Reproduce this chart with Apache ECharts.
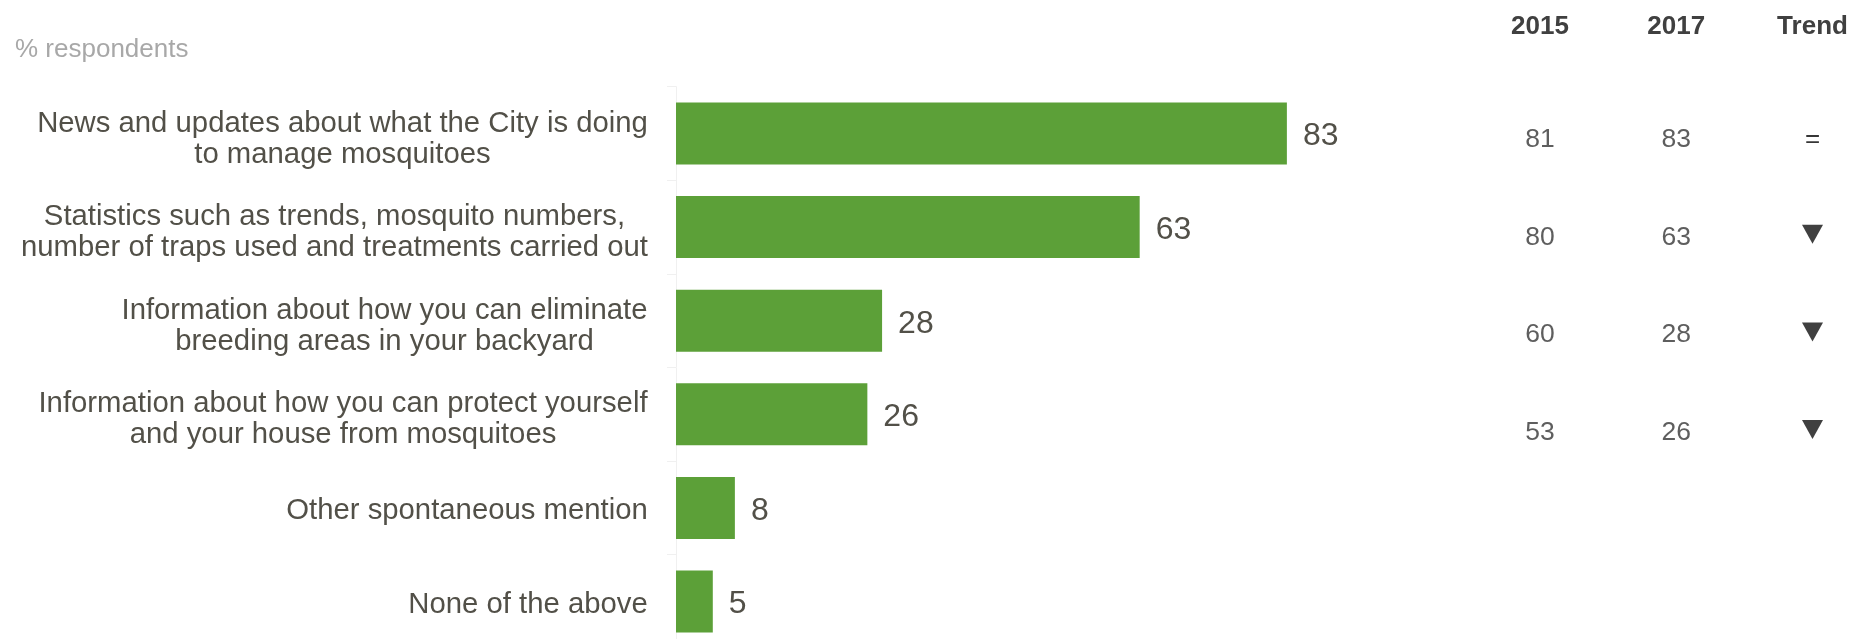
<!DOCTYPE html>
<html>
<head>
<meta charset="utf-8">
<script src="https://cdn.jsdelivr.net/npm/echarts@6/dist/echarts.min.js"></script>
<style>
html,body{margin:0;padding:0;background:#fff;overflow:hidden;}
#chart{width:1853px;height:660px;}
</style>
</head>
<body>
<div id="chart"></div>
<script>
// ---- data ----
const categories = [
  "News and updates about what the City is doing\nto manage mosquitoes",
  "Statistics such as trends, mosquito numbers,\nnumber of traps used and treatments carried out",
  "Information about how you can eliminate\nbreeding areas in your backyard",
  "Information about how you can protect yourself\nand your house from mosquitoes",
  "Other spontaneous mention",
  "None of the above"
];
const values2017 = [83, 63, 28, 26, 8, 5];
const tableHeaders = ["2015", "2017", "Trend"];
const tableRows = ["r1", "r2", "r3", "r4"];
const table2015 = [81, 80, 60, 53];
const table2017 = [83, 63, 28, 26];
const trend = ["=", "down", "down", "down"];
const axisTitle = "% respondents";

// ---- styling ----
const FONT = "'Liberation Sans', Arial, sans-serif";
const LABEL_SIZE = 29.3;
const LABEL_COLOR = "#525048";
const TABLE_COLOR = "#404040";
const TABLE_NUM_COLOR = "#363636";
const BAR_COLOR = "#5ca038";

// measure label widths so multi-line labels are centred within their block
const cv = document.createElement("canvas").getContext("2d");
cv.font = LABEL_SIZE + "px " + FONT;
const rich = {
  sp1: {fontSize: 1, lineHeight: 6},
  sp2: {fontSize: 1, lineHeight: 11}
};
categories.forEach((c, i) => {
  const w = Math.max(...c.split("\n").map(s => cv.measureText(s).width));
  rich["c" + i] = {
    width: Math.ceil(w) + 2, align: "center", fontSize: LABEL_SIZE,
    lineHeight: 31, color: LABEL_COLOR, fontFamily: FONT
  };
});

const chart = echarts.init(document.getElementById("chart"));
chart.setOption({
  animation: false,
  backgroundColor: "#ffffff",
  title: {
    text: axisTitle, left: 10, top: 32,
    textStyle: {fontSize: 26, fontWeight: "normal", color: "#a8a8a8", fontFamily: FONT}
  },
  grid: [
    {left: 676, top: 86.7, width: 736, height: 561.6, containLabel: false},
    {left: 1540, top: 136.6, width: 272.5, height: 293, containLabel: false}
  ],
  xAxis: [
    {gridIndex: 0, type: "value", min: 0, max: 100, show: false, splitLine: {show: false}},
    {gridIndex: 1, type: "category", data: tableHeaders, position: "top", boundaryGap: false,
     axisLine: {show: false}, axisTick: {show: false}, splitLine: {show: false},
     axisLabel: {margin: 96.5, fontSize: 26, lineHeight: 26, fontWeight: "bold", color: TABLE_COLOR, fontFamily: FONT}}
  ],
  yAxis: [
    {gridIndex: 0, type: "category", data: categories, inverse: true,
     axisLine: {show: true, lineStyle: {color: "#f0f0f0", width: 1}},
     axisTick: {show: true, length: 9, lineStyle: {color: "#f0f0f0"}},
     axisLabel: {
       margin: 27, fontFamily: FONT, fontSize: LABEL_SIZE, color: LABEL_COLOR,
       formatter: (v, idx) => {
         const lines = v.split("\n");
         const sp = lines.length > 1 ? "{sp2| }" : "{sp1| }";
         return sp + "\n" + lines.map(s => "{c" + idx + "|" + s + "}").join("\n");
       },
       rich: rich
     }},
    {gridIndex: 1, type: "category", data: tableRows, inverse: true, boundaryGap: false, show: false}
  ],
  series: [
    {
      type: "bar", xAxisIndex: 0, yAxisIndex: 0, data: values2017,
      barWidth: 62, itemStyle: {color: BAR_COLOR},
      label: {show: true, position: "right", distance: 16, offset: [0, 3], fontSize: 32,
              color: LABEL_COLOR, fontFamily: FONT}
    },
    {
      type: "scatter", xAxisIndex: 1, yAxisIndex: 1, symbol: "circle", symbolSize: 1,
      itemStyle: {color: "rgba(0,0,0,0)"},
      data: table2015.map((v, i) => [tableHeaders[0], tableRows[i], v]),
      label: {show: true, position: "inside", offset: [0, 3], formatter: p => p.value[2],
              fontSize: 26.5, color: TABLE_NUM_COLOR, fontFamily: FONT}
    },
    {
      type: "scatter", xAxisIndex: 1, yAxisIndex: 1, symbol: "circle", symbolSize: 1,
      itemStyle: {color: "rgba(0,0,0,0)"},
      data: table2017.map((v, i) => [tableHeaders[1], tableRows[i], v]),
      label: {show: true, position: "inside", offset: [0, 3], formatter: p => p.value[2],
              fontSize: 26.5, color: TABLE_NUM_COLOR, fontFamily: FONT}
    },
    {
      type: "scatter", xAxisIndex: 1, yAxisIndex: 1,
      data: trend.map((t, i) => ({
        value: [tableHeaders[2], tableRows[i]],
        symbol: t === "=" ? "circle" : "triangle",
        symbolRotate: t === "down" ? 180 : 0,
        symbolSize: t === "=" ? 1 : [21, 19],
        itemStyle: {color: t === "=" ? "rgba(0,0,0,0)" : TABLE_COLOR, opacity: 1},
        label: {show: t === "=", formatter: "="}
      })),
      label: {position: "inside", offset: [0, 3], fontSize: 26, color: TABLE_NUM_COLOR, fontFamily: FONT}
    }
  ]
});
</script>
</body>
</html>
